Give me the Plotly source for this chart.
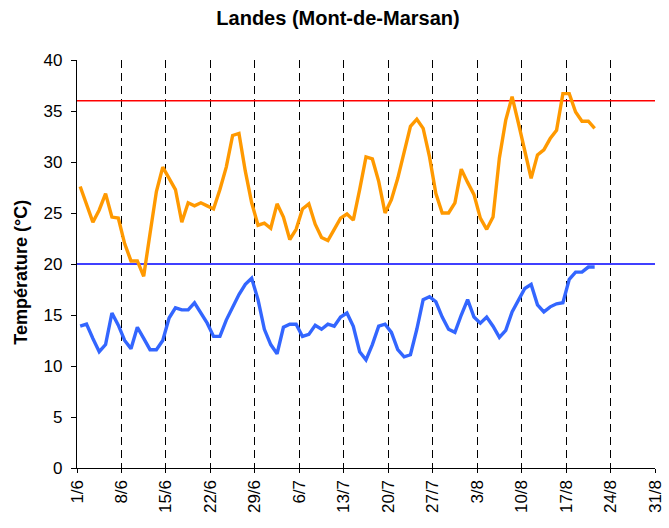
import pandas as pd
import plotly.graph_objects as go

# Daily values from 1/6 to 21/8
start_date = "2003-06-01"
tmax = [27.6, 25.8, 24.1, 25.3, 26.9, 24.6, 24.5, 22.0, 20.3, 20.3,
        18.8, 23.0, 27.1, 29.5, 28.4, 27.3, 24.1, 26.0, 25.7, 26.0,
        25.7, 25.4, 27.3, 29.5, 32.6, 32.8, 29.1, 26.0, 23.8, 24.0,
        23.5, 25.9, 24.6, 22.4, 23.4, 25.4, 25.9, 23.9, 22.6, 22.3,
        23.4, 24.5, 24.9, 24.3, 27.3, 30.5, 30.3, 28.1, 25.0, 26.3,
        28.4, 30.9, 33.5, 34.2, 33.3, 30.5, 26.9, 25.0, 25.0, 26.0,
        29.3, 28.0, 26.8, 24.5, 23.4, 24.6, 30.4, 34.1, 36.4, 33.8,
        31.2, 28.4, 30.7, 31.2, 32.3, 33.1, 36.7, 36.7, 34.9, 34.0,
        34.0, 33.3]
tmin = [13.9, 14.1, 12.7, 11.4, 12.1, 15.2, 14.0, 12.5, 11.7, 13.8,
        12.7, 11.6, 11.6, 12.5, 14.7, 15.7, 15.5, 15.5, 16.2, 15.2,
        14.2, 12.9, 12.9, 14.5, 15.8, 17.0, 18.0, 18.6, 16.5, 13.6,
        12.1, 11.2, 13.8, 14.1, 14.1, 12.9, 13.1, 14.0, 13.6, 14.1,
        13.9, 14.8, 15.2, 13.9, 11.4, 10.6, 12.1, 13.9, 14.1, 13.3,
        11.6, 10.9, 11.1, 13.6, 16.5, 16.8, 16.3, 14.8, 13.6, 13.3,
        15.0, 16.5, 14.8, 14.2, 14.8, 13.9, 12.8, 13.5, 15.3, 16.5,
        17.6, 18.0, 16.0, 15.3, 15.8, 16.1, 16.2, 18.5, 19.2, 19.2,
        19.7, 19.7]
threshold_max = 36
threshold_min = 20
tick_labels = ["1/6", "8/6", "15/6", "22/6", "29/6", "6/7", "13/7",
               "20/7", "27/7", "3/8", "10/8", "17/8", "24/8", "31/8"]

days = pd.date_range(start_date, periods=len(tmax), freq="D") + pd.Timedelta(hours=12)
tick_vals = pd.date_range(start_date, periods=len(tick_labels), freq="7D")
x_range = [tick_vals[0], tick_vals[-1]]

FONT = "Liberation Sans, Arial, sans-serif"
W, H = 677, 528
L, R, T, B = 77, 15, 60, 60
PW = W - L - R

fig = go.Figure()
fig.add_trace(go.Scatter(x=x_range, y=[threshold_max] * 2, mode="lines",
                         line=dict(color="#FF0000", width=1.6), hoverinfo="skip"))
fig.add_trace(go.Scatter(x=x_range, y=[threshold_min] * 2, mode="lines",
                         line=dict(color="#0000FF", width=1.6), hoverinfo="skip"))
fig.add_trace(go.Scatter(x=days, y=tmax, mode="lines",
                         line=dict(color="#FF9900", width=3.4)))
fig.add_trace(go.Scatter(x=days, y=tmin, mode="lines",
                         line=dict(color="#3366FF", width=3.4)))

fig.update_layout(
    width=W, height=H,
    margin=dict(l=L, r=R, t=T, b=B),
    paper_bgcolor="white", plot_bgcolor="white",
    showlegend=False,
    font=dict(family=FONT, color="black", size=17),
    title=dict(text="<b>Landes (Mont-de-Marsan)</b>", x=338 / W, xanchor="center",
               y=1 - 17.5 / H, yanchor="middle", yref="container",
               font=dict(family=FONT, size=20, color="black")),
    xaxis=dict(type="date", range=x_range, tickvals=tick_vals, ticktext=tick_labels,
               tickangle=-90, showgrid=True, gridcolor="black", gridwidth=1,
               griddash="8px,5px", showline=True, linecolor="black", linewidth=1.3,
               ticks="outside", ticklen=4, tickcolor="black", zeroline=False,
               tickfont=dict(size=17)),
    yaxis=dict(range=[0, 40], tickvals=list(range(0, 41, 5)), showgrid=False,
               showline=True, linecolor="black", linewidth=1.3, ticks="outside",
               ticklen=5, tickcolor="black", zeroline=False, ticklabelstandoff=5,
               tickfont=dict(size=17)),
    annotations=[dict(text="<b>Température (°C)</b>", textangle=-90,
                      xref="paper", yref="paper", x=(20 - L) / PW, y=(468 - 272) / 408,
                      xanchor="center", yanchor="middle", showarrow=False,
                      font=dict(family=FONT, size=18, color="black"))],
)

fig.write_html("out.html", config={"displayModeBar": False},
               post_script="document.body.style.margin='0';document.body.style.overflow='hidden';")
